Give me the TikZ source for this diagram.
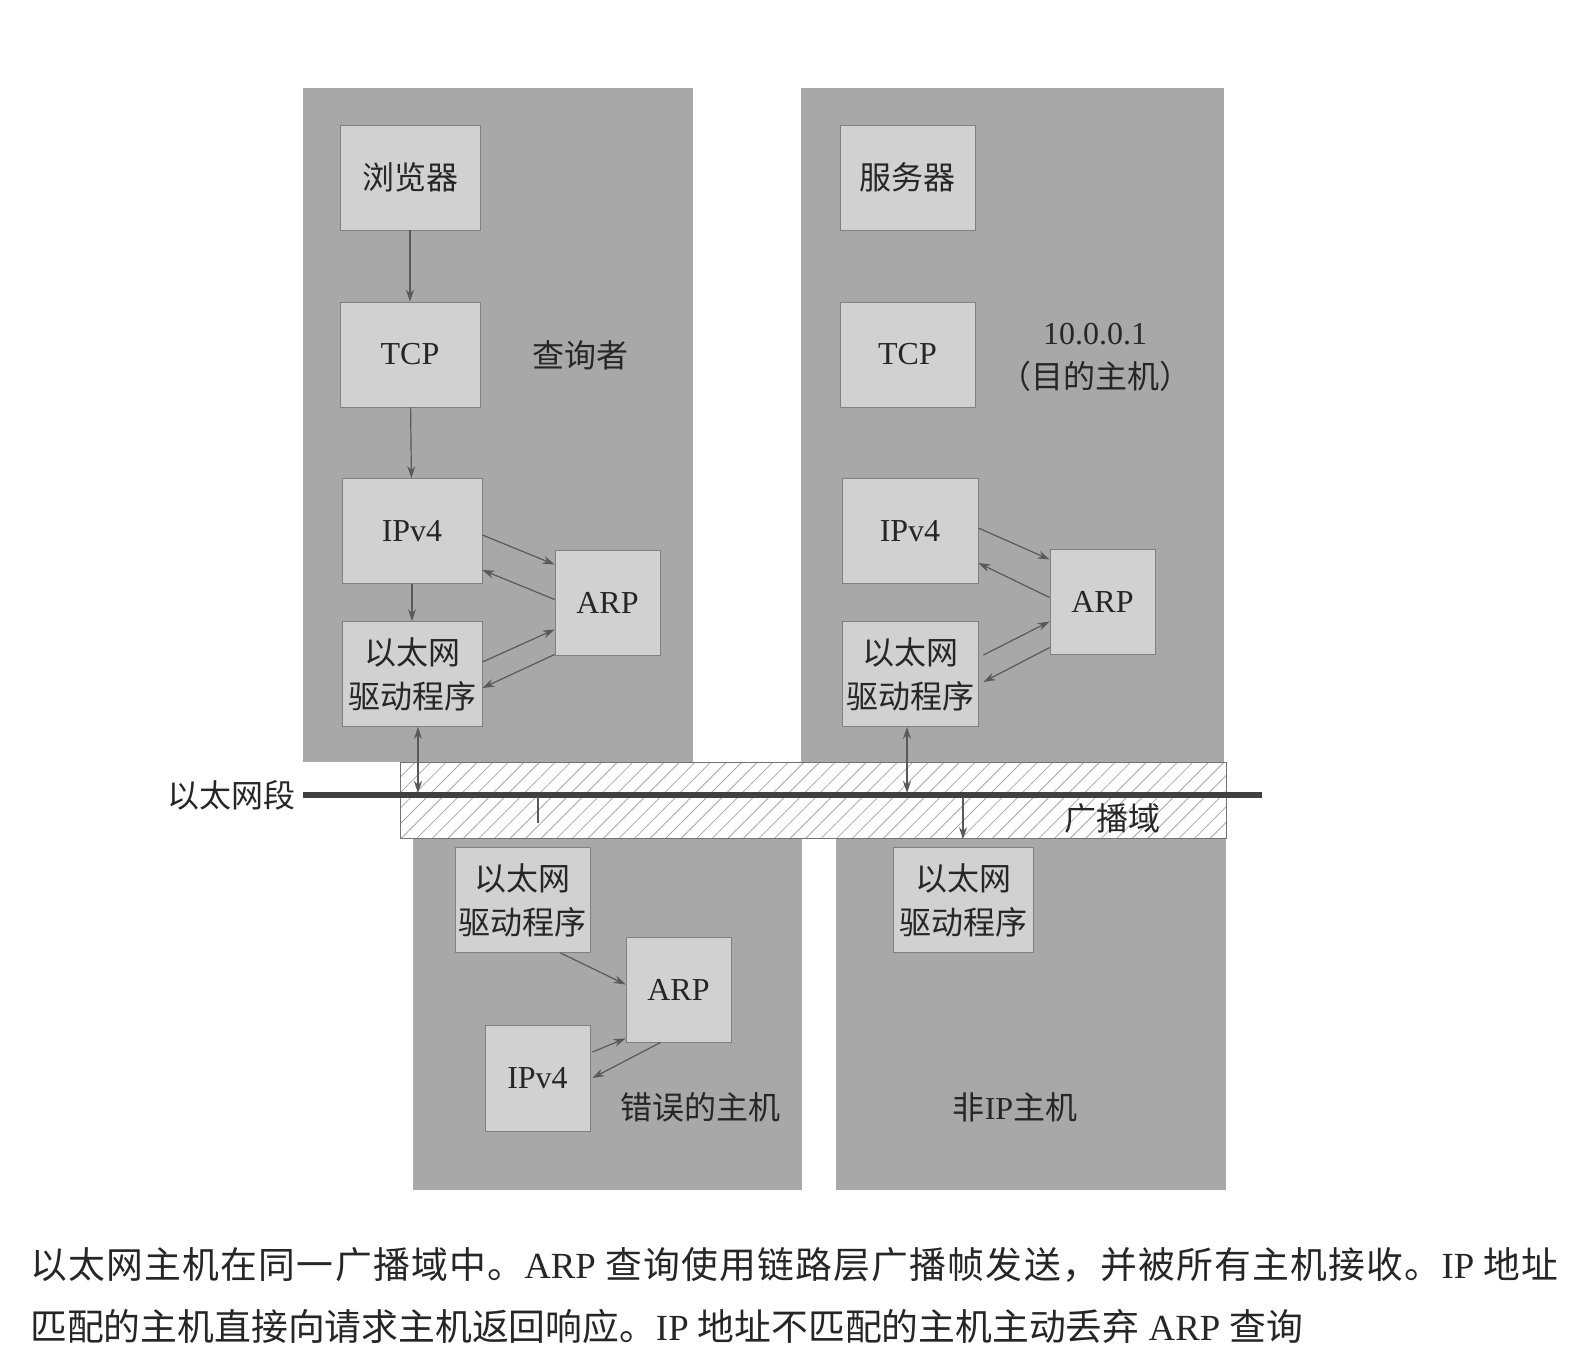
\documentclass[tikz,border=0pt]{standalone}
\usepackage{fontspec}
\setmainfont{Liberation Serif}
\newfontfamily\cjk{Noto Sans CJK SC}
\newfontfamily\cjkwide[LetterSpace=3.5]{Noto Sans CJK SC}
\usetikzlibrary{arrows.meta,calc,patterns.meta}
\newcommand{\zh}[1]{{\cjk #1}}

\begin{document}
\begin{tikzpicture}[x=0.5pt,y=-0.5pt,
    host/.style={fill=black!34},
    layer/.style={draw=black!50, fill=black!18, inner sep=0pt,
      minimum width=70pt, minimum height=52.5pt, align=center,
      text=black!85, font=\fontsize{16pt}{22pt}\selectfont},
    hostname/.style={text=black!85, align=center,
      font=\fontsize{16pt}{22pt}\selectfont},
    arr/.style={draw=black!65, line width=0.6pt, -{Stealth[length=6pt,width=4pt]}},
    darr/.style={arr, {Stealth[length=6pt,width=4pt]}-{Stealth[length=6pt,width=4pt]}},
    captext/.style={anchor=west, inner sep=0pt, text=black!85,
      font=\fontsize{18.4pt}{30pt}\selectfont}]

   \useasboundingbox (0,0) rectangle (1574,1364);
   \def\Ytop{88}
   \def\Ylow{1190}
   \def\Yseg{795}

        % hosts
        \fill[host] (303, \Ytop) rectangle (693, 762);
        \fill[host] (801, \Ytop) rectangle (1224, 762);
        \fill[host] (413, 838) rectangle (802, \Ylow);
        \fill[host] (836, 838) rectangle (1226, \Ylow);
        % broadcast domain
        \draw[black!55, line width=0.5pt, pattern={Lines[angle=45,distance=5.5pt,line width=0.4pt]},
          pattern color=black!35] (400, 762) rectangle (1226, 838);
        % ethernet segment
        \coordinate (segL) at (303, \Yseg);
        \coordinate (segR) at (1262, \Yseg);
        \draw[line width=3pt, black!75] (segL) -- (segR);

        % requester
        \node[layer] (brA) at (410, 177.5) {\zh{浏览器}};
        \node[layer] (tcpA) at (410, 354.5) {TCP};
        \node[layer] (ipA) at (412, 531) {IPv4};
        \node[layer] (ethA) at (412, 674) {\zh{以太网}\\\zh{驱动程序}};
        \node[layer, minimum width=52.5pt] (arpA) at (607.5, 602.5) {ARP};
        % target
        \node[layer, minimum width=67.5pt] (srvB) at (907.5, 177.5) {\zh{服务器}};
        \node[layer, minimum width=67.5pt] (tcpB) at (907.5, 354.5) {TCP};
        \node[layer, minimum width=68pt] (ipB) at (910, 531) {IPv4};
        \node[layer, minimum width=68pt] (ethB) at (910, 674) {\zh{以太网}\\\zh{驱动程序}};
        \node[layer, minimum width=52.5pt] (arpB) at (1102.5, 601.5) {ARP};
        % wrong host
        \node[layer, minimum width=67.5pt] (ethC) at (522.5, 900) {\zh{以太网}\\\zh{驱动程序}};
        \node[layer, minimum width=52.5pt] (arpC) at (678.5, 989.5) {ARP};
        \node[layer, minimum width=52.5pt, minimum height=53pt] (ipC) at (537.5, 1078) {IPv4};
        % non-IP host
        \node[layer] (ethD) at (963, 900) {\zh{以太网}\\\zh{驱动程序}};

        % taps on the segment
        \coordinate (tapA) at (418, 793);
        \coordinate (tapB) at (907, 793);
        \coordinate (tapC) at (538, 797);
        \coordinate (tickC) at (538, 823);
        \coordinate (tapD) at (963, 797);

        % arrows
        \draw[arr] (brA) -- (tcpA);
        \draw[arr] (tcpA) -- (ipA);
        \draw[arr] (ipA) -- (ethA);
        \draw[darr] (tapA |- ethA.south) -- (tapA);
        \draw[arr] ($(ipA.east)+(0,4)$) -- ($(arpA.west)+(0,-38)$);
        \draw[arr] ($(arpA.west)+(0,-3)$) -- ($(ipA.east)+(0,39)$);
        \draw[arr] ($(ethA.east)+(0,-12)$) -- ($(arpA.west)+(0,27)$);
        \draw[arr] ($(arpA.west)+(0,52)$) -- ($(ethA.east)+(0,14)$);

        \draw[darr] (tapB |- ethB.south) -- (tapB);
        \draw[arr] ($(ipB.east)+(0,-3)$) -- ($(arpB.west)+(0,-42)$);
        \draw[arr] ($(arpB.west)+(0,-4)$) -- ($(ipB.east)+(0,32)$);
        \draw[arr] ($(ethB.east)+(5,-19)$) -- ($(arpB.west)+(0,20)$);
        \draw[arr] ($(arpB.west)+(0,46)$) -- ($(ethB.east)+(5,8)$);

        \draw[black!65, line width=0.6pt] (tapC) -- (tickC);
        \draw[arr] ($(ethC.south east)+(-30,0)$) -- ($(arpC.west)+(0,-5)$);
        \draw[arr] ($(ipC.east)+(2,-26)$) -- ($(arpC.south west)+(0,-4)$);
        \draw[arr] ($(arpC.south west)+(35,0)$) -- ($(ipC.east)+(2,0)$);

        \draw[arr, shorten >=4pt] (tapD) -- (ethD.north);

        % labels
        \node[hostname, anchor=east] (segname) at (segL) {\zh{以太网段}};
        \node[hostname] (whoA) at (580, 355) {\zh{查询者}};
        \node[hostname] (whoB) at (1095, 357) {10.0.0.1\\\zh{（目的主机）}};
        \node[hostname] (whoC) at (700, 1107) {\zh{错误的主机}};
        \node[hostname] (whoD) at (1015, 1107) {\zh{非}IP\zh{主机}};
        \node[hostname] (bcast) at (1112, 818) {\zh{广播域}};

        % caption
        \node[captext] (cap1) at (30, 1265) {{\cjkwide 以太网主机在同一广播域中。}ARP {\cjkwide 查询使用链路层广播帧发送，并被所有主机接收。}IP {\cjkwide 地址}};
        \node[captext] (cap2) at (30, 1326) {\zh{匹配的主机直接向请求主机返回响应。}IP \zh{地址不匹配的主机主动丢弃} ARP \zh{查询}};
\end{tikzpicture}
\end{document}
